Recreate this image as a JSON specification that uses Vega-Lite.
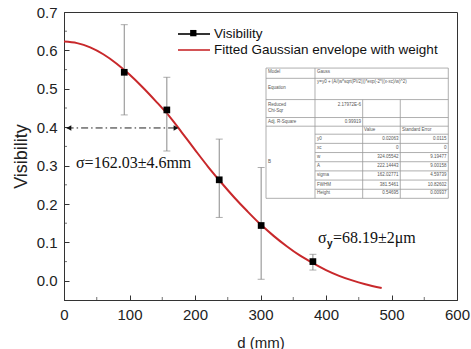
{
  "$schema": "https://vega.github.io/schema/vega-lite/v6.json",
  "width": 393,
  "height": 288,
  "autosize": {"type": "none"},
  "padding": {"left": 64, "top": 12, "right": 14, "bottom": 49},
  "background": "white",
  "config": {
    "view": {"stroke": "#333333", "strokeWidth": 1},
    "font": "Liberation Sans",
    "axis": {"grid": false, "domainColor": "#333333", "tickColor": "#333333", "labelColor": "#222222", "titleColor": "#222222", "labelFont": "Liberation Sans", "titleFont": "Liberation Sans", "labelFontSize": 15, "titleFontSize": 15, "titleFontWeight": "normal", "labelOverlap": false}
  },
  "datasets": {
    "one": [{}],
    "points": [
      {"d": 92, "v": 0.543, "lo": 0.432, "hi": 0.667, "series": "Visibility"},
      {"d": 157, "v": 0.445, "lo": 0.338, "hi": 0.530, "series": "Visibility"},
      {"d": 237, "v": 0.263, "lo": 0.165, "hi": 0.369, "series": "Visibility"},
      {"d": 301, "v": 0.144, "lo": 0.004, "hi": 0.295, "series": "Visibility"},
      {"d": 380, "v": 0.050, "lo": 0.028, "hi": 0.069, "series": "Visibility"}
    ],
    "curve": [
      {"d": 0, "v": 0.623, "series": "Fitted Gaussian envelope with weight"},
      {"d": 20, "v": 0.619, "series": "Fitted Gaussian envelope with weight"},
      {"d": 40, "v": 0.608, "series": "Fitted Gaussian envelope with weight"},
      {"d": 60, "v": 0.590, "series": "Fitted Gaussian envelope with weight"},
      {"d": 80, "v": 0.566, "series": "Fitted Gaussian envelope with weight"},
      {"d": 100, "v": 0.537, "series": "Fitted Gaussian envelope with weight"},
      {"d": 120, "v": 0.504, "series": "Fitted Gaussian envelope with weight"},
      {"d": 140, "v": 0.468, "series": "Fitted Gaussian envelope with weight"},
      {"d": 160, "v": 0.430, "series": "Fitted Gaussian envelope with weight"},
      {"d": 180, "v": 0.386, "series": "Fitted Gaussian envelope with weight"},
      {"d": 200, "v": 0.341, "series": "Fitted Gaussian envelope with weight"},
      {"d": 220, "v": 0.297, "series": "Fitted Gaussian envelope with weight"},
      {"d": 240, "v": 0.256, "series": "Fitted Gaussian envelope with weight"},
      {"d": 260, "v": 0.217, "series": "Fitted Gaussian envelope with weight"},
      {"d": 280, "v": 0.181, "series": "Fitted Gaussian envelope with weight"},
      {"d": 300, "v": 0.147, "series": "Fitted Gaussian envelope with weight"},
      {"d": 320, "v": 0.117, "series": "Fitted Gaussian envelope with weight"},
      {"d": 340, "v": 0.090, "series": "Fitted Gaussian envelope with weight"},
      {"d": 360, "v": 0.066, "series": "Fitted Gaussian envelope with weight"},
      {"d": 380, "v": 0.046, "series": "Fitted Gaussian envelope with weight"},
      {"d": 400, "v": 0.028, "series": "Fitted Gaussian envelope with weight"},
      {"d": 420, "v": 0.013, "series": "Fitted Gaussian envelope with weight"},
      {"d": 440, "v": 0.001, "series": "Fitted Gaussian envelope with weight"},
      {"d": 460, "v": -0.009, "series": "Fitted Gaussian envelope with weight"},
      {"d": 485, "v": -0.019, "series": "Fitted Gaussian envelope with weight"}
    ],
    "params": [
      {"name": "y0", "value": "0.02063", "error": "0.0115"},
      {"name": "xc", "value": "0", "error": "0"},
      {"name": "w", "value": "324.05542", "error": "9.19477"},
      {"name": "A", "value": "222.14443", "error": "9.00158"},
      {"name": "sigma", "value": "162.02771", "error": "4.59739"},
      {"name": "FWHM", "value": "381.5461", "error": "10.82602"},
      {"name": "Height", "value": "0.54695", "error": "0.00937"}
    ]
  },
  "layer": [
    {
      "data": {"name": "one"},
      "layer": [
        {"mark": {"type": "rect", "fill": "white", "stroke": "#9a9a9a", "strokeWidth": 0.8}, "encoding": {"x": {"datum": 308.4}, "x2": {"datum": 586.7}, "y": {"datum": 0.554}, "y2": {"datum": 0.2148}}},
        {"mark": {"type": "rule", "color": "#9a9a9a", "strokeWidth": 0.8}, "encoding": {"x": {"datum": 308.4}, "x2": {"datum": 586.7}, "y": {"datum": 0.5273}}},
        {"mark": {"type": "rule", "color": "#9a9a9a", "strokeWidth": 0.8}, "encoding": {"x": {"datum": 308.4}, "x2": {"datum": 586.7}, "y": {"datum": 0.4719}}},
        {"mark": {"type": "rule", "color": "#9a9a9a", "strokeWidth": 0.8}, "encoding": {"x": {"datum": 308.4}, "x2": {"datum": 586.7}, "y": {"datum": 0.4252}}},
        {"mark": {"type": "rule", "color": "#9a9a9a", "strokeWidth": 0.8}, "encoding": {"x": {"datum": 308.4}, "x2": {"datum": 586.7}, "y": {"datum": 0.4026}}},
        {"mark": {"type": "rule", "color": "#9a9a9a", "strokeWidth": 0.8}, "encoding": {"x": {"datum": 383.2}, "x2": {"datum": 586.7}, "y": {"datum": 0.3818}}},
        {"mark": {"type": "rule", "color": "#9a9a9a", "strokeWidth": 0.8}, "encoding": {"x": {"datum": 383.2}, "x2": {"datum": 586.7}, "y": {"datum": 0.3579}}},
        {"mark": {"type": "rule", "color": "#9a9a9a", "strokeWidth": 0.8}, "encoding": {"x": {"datum": 383.2}, "x2": {"datum": 586.7}, "y": {"datum": 0.3340}}},
        {"mark": {"type": "rule", "color": "#9a9a9a", "strokeWidth": 0.8}, "encoding": {"x": {"datum": 383.2}, "x2": {"datum": 586.7}, "y": {"datum": 0.3101}}},
        {"mark": {"type": "rule", "color": "#9a9a9a", "strokeWidth": 0.8}, "encoding": {"x": {"datum": 383.2}, "x2": {"datum": 586.7}, "y": {"datum": 0.2862}}},
        {"mark": {"type": "rule", "color": "#9a9a9a", "strokeWidth": 0.8}, "encoding": {"x": {"datum": 383.2}, "x2": {"datum": 586.7}, "y": {"datum": 0.2623}}},
        {"mark": {"type": "rule", "color": "#9a9a9a", "strokeWidth": 0.8}, "encoding": {"x": {"datum": 383.2}, "x2": {"datum": 586.7}, "y": {"datum": 0.2384}}},
        {"mark": {"type": "rule", "color": "#9a9a9a", "strokeWidth": 0.8}, "encoding": {"x": {"datum": 383.2}, "y": {"datum": 0.554}, "y2": {"datum": 0.2148}}},
        {"mark": {"type": "rule", "color": "#9a9a9a", "strokeWidth": 0.8}, "encoding": {"x": {"datum": 456.0}, "y": {"datum": 0.4719}, "y2": {"datum": 0.2148}}},
        {"mark": {"type": "rule", "color": "#9a9a9a", "strokeWidth": 0.8}, "encoding": {"x": {"datum": 513.4}, "y": {"datum": 0.4719}, "y2": {"datum": 0.2148}}},
        {"mark": {"type": "text", "text": "Model", "align": "left", "baseline": "middle", "fontSize": 4.5, "color": "#555555"}, "encoding": {"x": {"datum": 311.5}, "y": {"datum": 0.5431}}},
        {"mark": {"type": "text", "text": "Gauss", "align": "left", "baseline": "middle", "fontSize": 4.5, "color": "#555555"}, "encoding": {"x": {"datum": 386.3}, "y": {"datum": 0.5431}}},
        {"mark": {"type": "text", "text": "y=y0 + (A/(w*sqrt(PI/2)))*exp(-2*((x-xc)/w)^2)", "align": "left", "baseline": "middle", "fontSize": 4.5, "color": "#555555"}, "encoding": {"x": {"datum": 386.3}, "y": {"datum": 0.5169}}},
        {"mark": {"type": "text", "text": "Equation", "align": "left", "baseline": "middle", "fontSize": 4.5, "color": "#555555"}, "encoding": {"x": {"datum": 311.5}, "y": {"datum": 0.5013}}},
        {"mark": {"type": "text", "text": "Reduced", "align": "left", "baseline": "middle", "fontSize": 4.5, "color": "#555555"}, "encoding": {"x": {"datum": 311.5}, "y": {"datum": 0.4571}}},
        {"mark": {"type": "text", "text": "Chi-Sqr", "align": "left", "baseline": "middle", "fontSize": 4.5, "color": "#555555"}, "encoding": {"x": {"datum": 311.5}, "y": {"datum": 0.4429}}},
        {"mark": {"type": "text", "text": "2.17972E-6", "align": "right", "baseline": "middle", "fontSize": 4.5, "color": "#555555"}, "encoding": {"x": {"datum": 453.4}, "y": {"datum": 0.4571}}},
        {"mark": {"type": "text", "text": "Adj. R-Square", "align": "left", "baseline": "middle", "fontSize": 4.5, "color": "#555555"}, "encoding": {"x": {"datum": 311.5}, "y": {"datum": 0.4138}}},
        {"mark": {"type": "text", "text": "0.99919", "align": "right", "baseline": "middle", "fontSize": 4.5, "color": "#555555"}, "encoding": {"x": {"datum": 453.4}, "y": {"datum": 0.4138}}},
        {"mark": {"type": "text", "text": "Value", "align": "left", "baseline": "middle", "fontSize": 4.5, "color": "#555555"}, "encoding": {"x": {"datum": 458}, "y": {"datum": 0.3922}}},
        {"mark": {"type": "text", "text": "Standard Error", "align": "left", "baseline": "middle", "fontSize": 4.5, "color": "#555555"}, "encoding": {"x": {"datum": 516}, "y": {"datum": 0.3922}}},
        {"mark": {"type": "text", "text": "B", "align": "left", "baseline": "middle", "fontSize": 4.5, "color": "#555555"}, "encoding": {"x": {"datum": 311.5}, "y": {"datum": 0.3091}}},
        {"mark": {"type": "tick", "orient": "horizontal", "size": 3, "thickness": 1, "color": "#333333"}, "encoding": {"x": {"datum": 2.3}, "y": {"datum": 0.05}}},
        {"mark": {"type": "tick", "orient": "horizontal", "size": 3, "thickness": 1, "color": "#333333"}, "encoding": {"x": {"datum": 2.3}, "y": {"datum": 0.15}}},
        {"mark": {"type": "tick", "orient": "horizontal", "size": 3, "thickness": 1, "color": "#333333"}, "encoding": {"x": {"datum": 2.3}, "y": {"datum": 0.25}}},
        {"mark": {"type": "tick", "orient": "horizontal", "size": 3, "thickness": 1, "color": "#333333"}, "encoding": {"x": {"datum": 2.3}, "y": {"datum": 0.35}}},
        {"mark": {"type": "tick", "orient": "horizontal", "size": 3, "thickness": 1, "color": "#333333"}, "encoding": {"x": {"datum": 2.3}, "y": {"datum": 0.45}}},
        {"mark": {"type": "tick", "orient": "horizontal", "size": 3, "thickness": 1, "color": "#333333"}, "encoding": {"x": {"datum": 2.3}, "y": {"datum": 0.55}}},
        {"mark": {"type": "tick", "orient": "horizontal", "size": 3, "thickness": 1, "color": "#333333"}, "encoding": {"x": {"datum": 2.3}, "y": {"datum": 0.65}}},
        {"mark": {"type": "tick", "orient": "vertical", "size": 3, "thickness": 1, "color": "#333333"}, "encoding": {"x": {"datum": 50}, "y": {"datum": -0.0461}}},
        {"mark": {"type": "tick", "orient": "vertical", "size": 3, "thickness": 1, "color": "#333333"}, "encoding": {"x": {"datum": 150}, "y": {"datum": -0.0461}}},
        {"mark": {"type": "tick", "orient": "vertical", "size": 3, "thickness": 1, "color": "#333333"}, "encoding": {"x": {"datum": 250}, "y": {"datum": -0.0461}}},
        {"mark": {"type": "tick", "orient": "vertical", "size": 3, "thickness": 1, "color": "#333333"}, "encoding": {"x": {"datum": 350}, "y": {"datum": -0.0461}}},
        {"mark": {"type": "tick", "orient": "vertical", "size": 3, "thickness": 1, "color": "#333333"}, "encoding": {"x": {"datum": 450}, "y": {"datum": -0.0461}}},
        {"mark": {"type": "tick", "orient": "vertical", "size": 3, "thickness": 1, "color": "#333333"}, "encoding": {"x": {"datum": 550}, "y": {"datum": -0.0461}}}
      ]
    },
    {"data": {"name": "params"}, "transform": [{"filter": "datum.name === 'y0'"}], "encoding": {"y": {"datum": 0.3699}},
     "layer": [
       {"mark": {"type": "text", "align": "left", "baseline": "middle", "fontSize": 4.5, "color": "#555555"}, "encoding": {"x": {"datum": 386.3}, "text": {"field": "name"}}},
       {"mark": {"type": "text", "align": "right", "baseline": "middle", "fontSize": 4.5, "color": "#555555"}, "encoding": {"x": {"datum": 510.7}, "text": {"field": "value"}}},
       {"mark": {"type": "text", "align": "right", "baseline": "middle", "fontSize": 4.5, "color": "#555555"}, "encoding": {"x": {"datum": 584}, "text": {"field": "error"}}}
     ]},
    {"data": {"name": "params"}, "transform": [{"filter": "datum.name === 'xc'"}], "encoding": {"y": {"datum": 0.3460}},
     "layer": [
       {"mark": {"type": "text", "align": "left", "baseline": "middle", "fontSize": 4.5, "color": "#555555"}, "encoding": {"x": {"datum": 386.3}, "text": {"field": "name"}}},
       {"mark": {"type": "text", "align": "right", "baseline": "middle", "fontSize": 4.5, "color": "#555555"}, "encoding": {"x": {"datum": 510.7}, "text": {"field": "value"}}},
       {"mark": {"type": "text", "align": "right", "baseline": "middle", "fontSize": 4.5, "color": "#555555"}, "encoding": {"x": {"datum": 584}, "text": {"field": "error"}}}
     ]},
    {"data": {"name": "params"}, "transform": [{"filter": "datum.name === 'w'"}], "encoding": {"y": {"datum": 0.3221}},
     "layer": [
       {"mark": {"type": "text", "align": "left", "baseline": "middle", "fontSize": 4.5, "color": "#555555"}, "encoding": {"x": {"datum": 386.3}, "text": {"field": "name"}}},
       {"mark": {"type": "text", "align": "right", "baseline": "middle", "fontSize": 4.5, "color": "#555555"}, "encoding": {"x": {"datum": 510.7}, "text": {"field": "value"}}},
       {"mark": {"type": "text", "align": "right", "baseline": "middle", "fontSize": 4.5, "color": "#555555"}, "encoding": {"x": {"datum": 584}, "text": {"field": "error"}}}
     ]},
    {"data": {"name": "params"}, "transform": [{"filter": "datum.name === 'A'"}], "encoding": {"y": {"datum": 0.2982}},
     "layer": [
       {"mark": {"type": "text", "align": "left", "baseline": "middle", "fontSize": 4.5, "color": "#555555"}, "encoding": {"x": {"datum": 386.3}, "text": {"field": "name"}}},
       {"mark": {"type": "text", "align": "right", "baseline": "middle", "fontSize": 4.5, "color": "#555555"}, "encoding": {"x": {"datum": 510.7}, "text": {"field": "value"}}},
       {"mark": {"type": "text", "align": "right", "baseline": "middle", "fontSize": 4.5, "color": "#555555"}, "encoding": {"x": {"datum": 584}, "text": {"field": "error"}}}
     ]},
    {"data": {"name": "params"}, "transform": [{"filter": "datum.name === 'sigma'"}], "encoding": {"y": {"datum": 0.2743}},
     "layer": [
       {"mark": {"type": "text", "align": "left", "baseline": "middle", "fontSize": 4.5, "color": "#555555"}, "encoding": {"x": {"datum": 386.3}, "text": {"field": "name"}}},
       {"mark": {"type": "text", "align": "right", "baseline": "middle", "fontSize": 4.5, "color": "#555555"}, "encoding": {"x": {"datum": 510.7}, "text": {"field": "value"}}},
       {"mark": {"type": "text", "align": "right", "baseline": "middle", "fontSize": 4.5, "color": "#555555"}, "encoding": {"x": {"datum": 584}, "text": {"field": "error"}}}
     ]},
    {"data": {"name": "params"}, "transform": [{"filter": "datum.name === 'FWHM'"}], "encoding": {"y": {"datum": 0.2504}},
     "layer": [
       {"mark": {"type": "text", "align": "left", "baseline": "middle", "fontSize": 4.5, "color": "#555555"}, "encoding": {"x": {"datum": 386.3}, "text": {"field": "name"}}},
       {"mark": {"type": "text", "align": "right", "baseline": "middle", "fontSize": 4.5, "color": "#555555"}, "encoding": {"x": {"datum": 510.7}, "text": {"field": "value"}}},
       {"mark": {"type": "text", "align": "right", "baseline": "middle", "fontSize": 4.5, "color": "#555555"}, "encoding": {"x": {"datum": 584}, "text": {"field": "error"}}}
     ]},
    {"data": {"name": "params"}, "transform": [{"filter": "datum.name === 'Height'"}], "encoding": {"y": {"datum": 0.2275}},
     "layer": [
       {"mark": {"type": "text", "align": "left", "baseline": "middle", "fontSize": 4.5, "color": "#555555"}, "encoding": {"x": {"datum": 386.3}, "text": {"field": "name"}}},
       {"mark": {"type": "text", "align": "right", "baseline": "middle", "fontSize": 4.5, "color": "#555555"}, "encoding": {"x": {"datum": 510.7}, "text": {"field": "value"}}},
       {"mark": {"type": "text", "align": "right", "baseline": "middle", "fontSize": 4.5, "color": "#555555"}, "encoding": {"x": {"datum": 584}, "text": {"field": "error"}}}
     ]},
    {
      "data": {"name": "curve"},
      "mark": {"type": "line", "strokeWidth": 2, "interpolate": "monotone"},
      "encoding": {
        "x": {"field": "d", "type": "quantitative", "scale": {"domain": [0, 600], "nice": false, "zero": false},
              "axis": {"title": "d (mm)", "values": [0, 100, 200, 300, 400, 500, 600],
                       "tickSize": -5, "labelPadding": 12, "titlePadding": 13, "labelFlush": false}},
        "y": {"field": "v", "type": "quantitative", "scale": {"domain": [-0.05, 0.7], "nice": false, "zero": false},
              "axis": {"title": "Visibility", "titleFontSize": 18, "values": [0, 0.1, 0.2, 0.3, 0.4, 0.5, 0.6, 0.7], "format": ".1f",
                       "tickSize": -5, "labelPadding": 12, "titlePadding": 6, "labelFlush": false}},
        "color": {"field": "series", "type": "nominal",
                  "scale": {"domain": ["Visibility", "Fitted Gaussian envelope with weight"], "range": ["#000000", "#c8282b"]},
                  "legend": {"title": null, "orient": "none", "legendX": 121, "legendY": 13, "padding": 0,
                             "labelFont": "Liberation Sans", "labelFontSize": 13.5, "labelColor": "#111111",
                             "symbolSize": 256, "labelOffset": 11, "rowPadding": 0, "labelLimit": 400,
                             "symbolType": "M-2,0H2", "symbolStrokeWidth": 1.6}}
      }
    },
    {
      "data": {"name": "points"},
      "mark": {"type": "rule", "color": "#8a8a8a", "strokeWidth": 1},
      "encoding": {
        "x": {"field": "d", "type": "quantitative"},
        "y": {"field": "lo", "type": "quantitative"},
        "y2": {"field": "hi"}
      }
    },
    {
      "data": {"name": "points"},
      "mark": {"type": "tick", "orient": "horizontal", "color": "#8a8a8a", "size": 7, "thickness": 1},
      "encoding": {"x": {"field": "d", "type": "quantitative"}, "y": {"field": "hi", "type": "quantitative"}}
    },
    {
      "data": {"name": "points"},
      "mark": {"type": "tick", "orient": "horizontal", "color": "#8a8a8a", "size": 7, "thickness": 1},
      "encoding": {"x": {"field": "d", "type": "quantitative"}, "y": {"field": "lo", "type": "quantitative"}}
    },
    {
      "data": {"name": "points"},
      "mark": {"type": "point", "shape": "square", "filled": true, "size": 45, "opacity": 1},
      "encoding": {
        "x": {"field": "d", "type": "quantitative"},
        "y": {"field": "v", "type": "quantitative"},
        "color": {"field": "series", "type": "nominal"}
      }
    },
    {
      "data": {"name": "one"},
      "layer": [
        {"mark": {"type": "rule", "color": "#222222", "strokeWidth": 1, "strokeDash": [7, 3, 1.5, 3]}, "encoding": {"x": {"datum": 4}, "x2": {"datum": 172}, "y": {"datum": 0.398}}},
        {"mark": {"type": "point", "shape": "triangle-left", "filled": true, "color": "#111111", "size": 30, "opacity": 1}, "encoding": {"x": {"datum": 7.5}, "y": {"datum": 0.398}}},
        {"mark": {"type": "point", "shape": "triangle-right", "filled": true, "color": "#111111", "size": 30, "opacity": 1}, "encoding": {"x": {"datum": 171}, "y": {"datum": 0.398}}},
        {"mark": {"type": "point", "shape": "square", "filled": true, "color": "#000000", "size": 40, "opacity": 1}, "encoding": {"x": {"datum": 197.4}, "y": {"datum": 0.645}}},
        {"mark": {"type": "text", "text": "σ=162.03±4.6mm", "font": "Liberation Serif", "fontSize": 16, "align": "left", "baseline": "alphabetic", "color": "#111111"}, "encoding": {"x": {"datum": 18.3}, "y": {"datum": 0.2935}}},
        {"mark": {"type": "text", "text": "σ", "font": "Liberation Serif", "fontSize": 16, "align": "left", "baseline": "alphabetic", "color": "#111111"}, "encoding": {"x": {"datum": 387.8}, "y": {"datum": 0.0987}}},
        {"mark": {"type": "text", "text": "y", "font": "Liberation Sans", "fontSize": 10, "fontWeight": "bold", "align": "left", "baseline": "alphabetic", "color": "#111111"}, "encoding": {"x": {"datum": 401.5}, "y": {"datum": 0.088}}},
        {"mark": {"type": "text", "text": "=68.19±2μm", "font": "Liberation Serif", "fontSize": 16, "align": "left", "baseline": "alphabetic", "color": "#111111"}, "encoding": {"x": {"datum": 410.5}, "y": {"datum": 0.0987}}}
      ]
    }
  ]
}
